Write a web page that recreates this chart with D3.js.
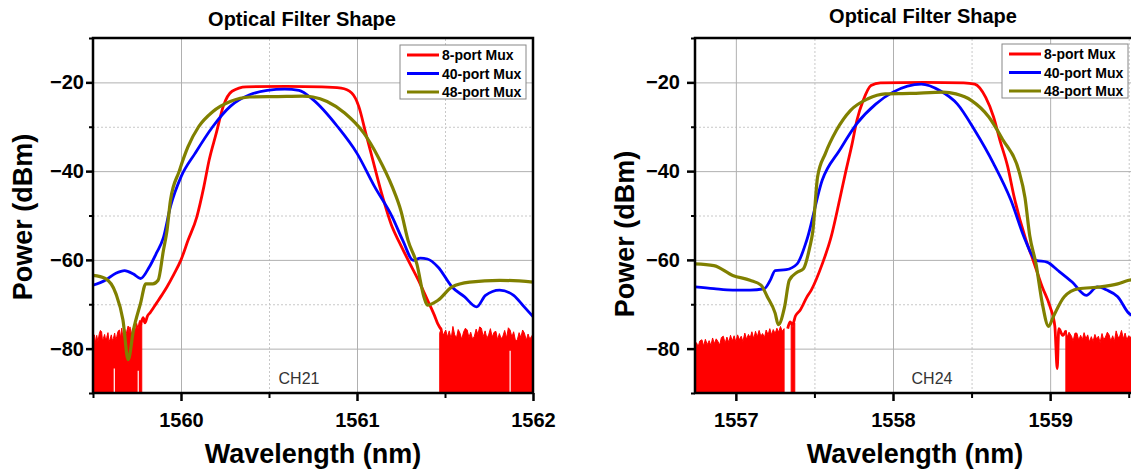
<!DOCTYPE html>
<html>
<head>
<meta charset="utf-8">
<script src="https://cdn.jsdelivr.net/npm/d3@7"></script>
<style>
  body { margin: 0; background: #fff; }
  svg { display: block; font-family: "Liberation Sans", Arial, sans-serif; }
</style>
</head>
<body>
<script>
// ---- data: [wavelength nm, power dBm] ----
var seriesNames = ["8-port Mux", "40-port Mux", "48-port Mux"];
var chartTitle = "Optical Filter Shape";
var xTitle = "Wavelength (nm)";
var yTitle = "Power (dBm)";
var channelLabels = ["CH21", "CH24"];

var yTicks = [-80, -60, -40, -20];
var yMinorTicks = [-90, -70, -50, -30, -10];
var yMinorGrid = [-70, -50, -30];
var ch21XTicks = [1560, 1561, 1562];
var ch21XMinor = [1559.5, 1560.5, 1561.5];
var ch24XTicks = [1557, 1558, 1559];
var ch24XMinor = [1557.5, 1558.5, 1559.5];

// CH21
var ch21Red = [
  [1559.770, -74.8], [1559.785, -73.0], [1559.795, -74.2], [1559.810, -72.6],
  [1559.825, -71.9], [1559.840, -71.0], [1559.860, -69.8], [1559.890, -68.0],
  [1559.920, -66.1], [1559.960, -63.2], [1560.000, -60.0], [1560.040, -55.6],
  [1560.090, -50.3], [1560.130, -43.5], [1560.160, -37.5], [1560.200, -31.5],
  [1560.240, -25.4], [1560.290, -22.0], [1560.370, -21.0], [1560.600, -20.9],
  [1560.800, -21.0], [1560.910, -21.3], [1560.970, -22.4], [1561.010, -25.4],
  [1561.050, -31.5], [1561.090, -37.5], [1561.140, -45.0], [1561.200, -52.6],
  [1561.240, -56.0], [1561.300, -60.8], [1561.360, -65.5], [1561.400, -69.0],
  [1561.440, -72.5], [1561.460, -74.5], [1561.480, -75.8]
];
var ch21RedFloorL = [
  [1559.500, -78.2], [1559.508, -76.9], [1559.514, -78.6], [1559.521, -77.0],
  [1559.528, -78.4], [1559.536, -76.6], [1559.542, -75.9], [1559.549, -76.2],
  [1559.554, -78.3], [1559.559, -77.7], [1559.566, -76.8], [1559.572, -78.1],
  [1559.578, -77.5], [1559.585, -76.4], [1559.591, -78.4], [1559.597, -77.9],
  [1559.604, -76.9], [1559.610, -78.2], [1559.616, -77.7], [1559.623, -76.5],
  [1559.629, -78.0], [1559.635, -77.3], [1559.642, -76.1], [1559.650, -75.8],
  [1559.656, -77.6], [1559.663, -75.4], [1559.668, -76.9], [1559.672, -77.3],
  [1559.680, -75.6], [1559.686, -77.0], [1559.691, -76.2], [1559.700, -74.9],
  [1559.705, -76.4], [1559.710, -75.1], [1559.718, -77.0], [1559.724, -75.5],
  [1559.729, -76.6], [1559.736, -74.7], [1559.742, -76.0], [1559.748, -74.3],
  [1559.756, -75.5], [1559.762, -74.0], [1559.767, -73.6], [1559.777, -74.5]
];
var ch21RedFloorR = [
  [1561.470, -76.5], [1561.480, -75.3], [1561.490, -77.0], [1561.504, -75.8],
  [1561.514, -77.4], [1561.524, -76.0], [1561.535, -77.8], [1561.545, -75.0],
  [1561.555, -76.9], [1561.565, -77.6], [1561.575, -75.7], [1561.585, -76.5],
  [1561.595, -77.9], [1561.606, -76.2], [1561.616, -75.4], [1561.626, -75.8],
  [1561.636, -77.5], [1561.646, -76.3], [1561.657, -77.9], [1561.667, -77.2],
  [1561.677, -75.6], [1561.687, -76.8], [1561.697, -75.1], [1561.707, -75.4],
  [1561.717, -77.3], [1561.728, -76.0], [1561.738, -77.7], [1561.748, -76.9],
  [1561.758, -75.5], [1561.768, -77.4], [1561.779, -76.3], [1561.789, -76.1],
  [1561.799, -78.0], [1561.809, -76.6], [1561.819, -77.8], [1561.829, -77.2],
  [1561.839, -75.9], [1561.850, -77.6], [1561.860, -75.3], [1561.870, -75.8],
  [1561.880, -77.4], [1561.890, -76.2], [1561.901, -78.3], [1561.911, -78.0],
  [1561.921, -76.4], [1561.931, -77.5], [1561.941, -75.8], [1561.951, -76.5],
  [1561.962, -78.1], [1561.972, -76.7], [1561.982, -77.9], [1561.992, -77.2],
  [1562.000, -76.8]
];
// trace dropouts inside the noise floor: [wavelength, top of the gap]
var ch21FloorGaps = [[1559.621, -84.5], [1559.757, -85.0], [1561.870, -80.5]];
var ch21Blue = [
  [1559.50, -65.7], [1559.57, -64.6], [1559.63, -63.0], [1559.68, -62.4],
  [1559.73, -63.2], [1559.77, -64.2], [1559.82, -61.6], [1559.86, -58.5],
  [1559.90, -55.0], [1559.94, -48.0], [1560.00, -41.3], [1560.08, -36.0],
  [1560.18, -30.0], [1560.28, -25.4], [1560.39, -22.8], [1560.49, -21.8],
  [1560.59, -21.5], [1560.67, -21.8], [1560.75, -23.9], [1560.89, -30.0],
  [1561.00, -36.0], [1561.10, -43.5], [1561.20, -50.3], [1561.26, -55.6],
  [1561.32, -60.1], [1561.36, -59.6], [1561.40, -59.8], [1561.46, -61.6],
  [1561.54, -66.1], [1561.61, -68.3], [1561.68, -70.6], [1561.73, -68.0],
  [1561.81, -66.8], [1561.89, -68.0], [1561.95, -70.6], [1562.00, -72.8]
];
var ch21Olive = [
  [1559.50, -63.5], [1559.57, -64.2], [1559.63, -67.6], [1559.67, -73.5],
  [1559.70, -82.5], [1559.73, -75.8], [1559.77, -69.8], [1559.80, -65.4],
  [1559.84, -65.4], [1559.87, -64.6], [1559.90, -57.9], [1559.92, -53.5],
  [1559.94, -46.6], [1559.99, -40.0], [1560.04, -34.5], [1560.10, -30.0],
  [1560.18, -26.6], [1560.28, -24.3], [1560.39, -23.3], [1560.55, -23.2],
  [1560.69, -23.1], [1560.75, -23.3], [1560.83, -24.3], [1560.93, -26.9],
  [1561.04, -31.5], [1561.12, -36.8], [1561.20, -43.5], [1561.25, -49.0],
  [1561.29, -55.6], [1561.34, -60.9], [1561.38, -68.3], [1561.40, -70.2],
  [1561.46, -69.1], [1561.54, -66.1], [1561.64, -65.0], [1561.81, -64.6],
  [1562.00, -65.0]
];

// CH24
var ch24Red = [
  [1557.330, -75.5], [1557.345, -74.0], [1557.360, -74.6], [1557.380, -72.6],
  [1557.410, -71.3], [1557.450, -68.5], [1557.480, -66.8], [1557.550, -60.9],
  [1557.605, -55.0], [1557.660, -46.5], [1557.700, -40.0], [1557.740, -33.8],
  [1557.770, -28.6], [1557.810, -24.1], [1557.860, -20.7], [1557.920, -20.1],
  [1558.200, -20.0], [1558.450, -20.1], [1558.520, -20.4], [1558.590, -23.4],
  [1558.640, -27.8], [1558.680, -33.0], [1558.730, -39.0], [1558.770, -45.7],
  [1558.845, -55.4], [1558.890, -59.9], [1558.950, -66.1], [1559.000, -70.6],
  [1559.030, -75.0], [1559.045, -84.5], [1559.055, -75.5], [1559.080, -77.0],
  [1559.100, -76.0]
];
var ch24RedFloorL = [
  [1556.740, -78.7], [1556.750, -78.7], [1556.760, -79.6], [1556.770, -78.3],
  [1556.784, -78.0], [1556.795, -79.4], [1556.806, -77.9], [1556.818, -79.1],
  [1556.830, -78.2], [1556.841, -79.3], [1556.852, -77.6], [1556.863, -78.9],
  [1556.875, -77.8], [1556.886, -78.4], [1556.897, -79.2], [1556.908, -77.5],
  [1556.920, -77.2], [1556.932, -78.8], [1556.943, -77.4], [1556.955, -78.6],
  [1556.966, -77.0], [1556.977, -78.3], [1556.989, -77.1], [1557.000, -78.5],
  [1557.011, -76.9], [1557.023, -78.0], [1557.034, -77.2], [1557.045, -78.4],
  [1557.057, -76.5], [1557.068, -77.9], [1557.080, -76.8], [1557.091, -77.6],
  [1557.102, -76.2], [1557.114, -77.8], [1557.125, -76.1], [1557.136, -77.4],
  [1557.148, -75.9], [1557.159, -77.2], [1557.170, -76.6], [1557.182, -77.5],
  [1557.193, -75.8], [1557.205, -76.9], [1557.216, -75.5], [1557.227, -76.9],
  [1557.238, -75.7], [1557.250, -76.6], [1557.261, -75.4], [1557.272, -76.3],
  [1557.284, -75.0], [1557.295, -76.1], [1557.307, -75.5]
];
var ch24RedSliver = [[1557.352, -74.5], [1557.362, -75.2], [1557.375, -74.2]];
var ch24RedFloorR = [
  [1559.100, -75.8], [1559.110, -77.4], [1559.120, -76.3], [1559.136, -77.2],
  [1559.146, -78.3], [1559.158, -76.5], [1559.170, -76.5], [1559.182, -78.1],
  [1559.194, -77.0], [1559.205, -78.0], [1559.216, -76.4], [1559.228, -77.8],
  [1559.239, -76.9], [1559.250, -78.5], [1559.262, -77.3], [1559.273, -78.4],
  [1559.285, -76.8], [1559.296, -77.9], [1559.307, -77.2], [1559.318, -78.6],
  [1559.330, -76.6], [1559.341, -78.0], [1559.352, -77.4], [1559.364, -76.3],
  [1559.375, -76.9], [1559.386, -78.3], [1559.398, -77.1], [1559.409, -78.4],
  [1559.420, -76.0], [1559.432, -77.5], [1559.443, -77.2], [1559.454, -75.9],
  [1559.466, -77.8], [1559.477, -76.5], [1559.488, -78.0], [1559.500, -77.1],
  [1559.511, -77.6], [1559.525, -76.4], [1559.540, -77.9], [1559.555, -76.8]
];
var ch24FloorGaps = [[1557.318, -83.0]];
var ch24Blue = [
  [1556.74, -66.1], [1556.86, -66.5], [1556.98, -66.8], [1557.09, -66.8],
  [1557.18, -66.5], [1557.22, -64.5], [1557.25, -62.4], [1557.32, -62.2],
  [1557.39, -60.9], [1557.45, -55.7], [1557.55, -42.0], [1557.66, -35.3],
  [1557.77, -29.3], [1557.89, -24.9], [1558.00, -22.2], [1558.18, -20.4],
  [1558.30, -21.9], [1558.41, -24.9], [1558.52, -30.8], [1558.64, -38.3],
  [1558.75, -46.5], [1558.84, -55.4], [1558.91, -60.1], [1558.98, -60.5],
  [1559.05, -62.4], [1559.14, -65.0], [1559.23, -68.0], [1559.30, -66.1],
  [1559.36, -66.8], [1559.43, -68.3], [1559.50, -72.0], [1559.56, -73.0]
];
var ch24Olive = [
  [1556.74, -60.9], [1556.86, -61.3], [1556.98, -63.5], [1557.09, -64.6],
  [1557.16, -65.7], [1557.20, -68.3], [1557.25, -72.0], [1557.27, -74.6],
  [1557.31, -70.6], [1557.34, -64.6], [1557.39, -62.8], [1557.43, -62.0],
  [1557.47, -57.2], [1557.49, -53.5], [1557.52, -41.3], [1557.57, -36.0],
  [1557.64, -30.8], [1557.73, -26.3], [1557.84, -23.7], [1557.95, -22.6],
  [1558.11, -22.5], [1558.32, -22.2], [1558.40, -22.6], [1558.50, -24.1],
  [1558.61, -27.8], [1558.70, -33.0], [1558.80, -39.8], [1558.84, -46.0],
  [1558.87, -54.5], [1558.91, -60.9], [1558.95, -69.8], [1558.99, -75.0],
  [1559.02, -72.8], [1559.09, -68.3], [1559.18, -66.5], [1559.32, -66.1],
  [1559.43, -65.4], [1559.50, -64.6], [1559.56, -64.3]
];

// ---- drawing ----
var W = 1131, H = 473;
var colors = ["#ff0000", "#0000ff", "#808000"];
var widths = [2.8, 2.8, 3.2];
var yDomain = [-90, -10];

var svg = d3.select("body").append("svg").attr("width", W).attr("height", H);
svg.append("rect").attr("width", W).attr("height", H).attr("fill", "#fff");

var panels = [
  { id: "p21", left: 93, right: 533, top: 38, bottom: 393,
    xDomain: [1559.5, 1562], xTicks: ch21XTicks, xMinor: ch21XMinor,
    tickLen: 7, yPad: 2,
    red: ch21Red, floors: [ch21RedFloorL, ch21RedFloorR], gaps: ch21FloorGaps,
    blue: ch21Blue, olive: ch21Olive,
    label: channelLabels[0], labelX: 299,
    titleX: 302, titleY: 26, xTitleX: 313, yTitleX: 32, yTitleY: 217,
    legX: 400, legY: 45 },
  { id: "p24", left: 695, right: 1168, top: 38, bottom: 393,
    xDomain: [1556.74, 1559.75], xTicks: ch24XTicks, xMinor: ch24XMinor,
    tickLen: 8, yPad: 7,
    red: ch24Red, floors: [ch24RedFloorL, ch24RedSliver, ch24RedFloorR], gaps: ch24FloorGaps,
    blue: ch24Blue, olive: ch24Olive,
    label: channelLabels[1], labelX: 932,
    titleX: 923, titleY: 23, xTitleX: 915, yTitleX: 634, yTitleY: 234,
    legX: 1002, legY: 44 }
];

panels.forEach(drawPanel);

function styleAxis(s) {
  s.attr("font-family", null).attr("font-size", null);
  s.select(".domain").remove();
}

function drawPanel(p) {
  var x = d3.scaleLinear().domain(p.xDomain).range([p.left, p.right]);
  var y = d3.scaleLinear().domain(yDomain).range([p.bottom, p.top]);
  var pw = p.right - p.left, ph = p.bottom - p.top;

  svg.append("clipPath").attr("id", "clip" + p.id)
    .append("rect").attr("x", p.left).attr("y", p.top).attr("width", pw).attr("height", ph);

  // minor grid
  svg.append("g").attr("transform", "translate(0," + p.bottom + ")")
    .call(d3.axisBottom(x).tickValues(p.xMinor).tickSize(-ph).tickFormat(""))
    .call(styleAxis)
    .selectAll("line").attr("stroke", "#c8c8c8").attr("stroke-dasharray", "2,2");
  svg.append("g").attr("transform", "translate(" + p.left + ",0)")
    .call(d3.axisLeft(y).tickValues(yMinorGrid).tickSize(-pw).tickFormat(""))
    .call(styleAxis)
    .selectAll("line").attr("stroke", "#c8c8c8").attr("stroke-dasharray", "2,2");
  // major grid
  svg.append("g").attr("transform", "translate(0," + p.bottom + ")")
    .call(d3.axisBottom(x).tickValues(p.xTicks).tickSize(-ph).tickFormat(""))
    .call(styleAxis)
    .selectAll("line").attr("stroke", "#b0b0b0");
  svg.append("g").attr("transform", "translate(" + p.left + ",0)")
    .call(d3.axisLeft(y).tickValues(yTicks).tickSize(-pw).tickFormat(""))
    .call(styleAxis)
    .selectAll("line").attr("stroke", "#b0b0b0");

  var plot = svg.append("g").attr("clip-path", "url(#clip" + p.id + ")");

  // noise floor of the 8-port trace
  var area = d3.area().x(d => x(d[0])).y0(p.bottom + 2).y1(d => y(d[1]));
  p.floors.forEach(function (f) {
    plot.append("path").datum(f)
      .attr("fill", colors[0]).attr("stroke", colors[0]).attr("stroke-width", 1)
      .attr("d", area);
  });
  plot.selectAll(".gap").data(p.gaps).enter().append("line")
    .attr("x1", d => x(d[0])).attr("x2", d => x(d[0]))
    .attr("y1", d => y(d[1])).attr("y2", p.bottom)
    .attr("stroke", "#fff").attr("stroke-width", 1.2);

  var line = d3.line().x(d => x(d[0])).y(d => y(d[1])).curve(d3.curveMonotoneX);
  [p.red, p.blue, p.olive].forEach(function (s, i) {
    plot.append("path").datum(s)
      .attr("fill", "none").attr("stroke", colors[i]).attr("stroke-width", widths[i])
      .attr("stroke-linejoin", "round")
      .attr("d", line);
  });

  // channel label
  svg.append("text").attr("x", p.labelX).attr("y", 384)
    .attr("text-anchor", "middle").attr("font-size", 16).attr("fill", "#333")
    .text(p.label);

  // frame
  svg.append("rect").attr("x", p.left).attr("y", p.top).attr("width", pw).attr("height", ph)
    .attr("fill", "none").attr("stroke", "#000").attr("stroke-width", 2.5);

  // axes ticks + labels
  var yAx = svg.append("g").attr("transform", "translate(" + p.left + ",0)")
    .call(d3.axisLeft(y).tickValues(yTicks).tickSize(p.tickLen).tickPadding(p.yPad).tickFormat(d3.format("d")))
    .call(styleAxis);
  yAx.selectAll("line").attr("stroke-width", 2.5);
  yAx.selectAll("text").attr("font-size", 20).attr("font-weight", "bold").attr("fill", "#000");
  svg.append("g").attr("transform", "translate(" + p.left + ",0)")
    .call(d3.axisLeft(y).tickValues(yMinorTicks).tickSize(4).tickFormat(""))
    .call(styleAxis)
    .selectAll("line").attr("stroke-width", 2);

  var xAx = svg.append("g").attr("transform", "translate(0," + p.bottom + ")")
    .call(d3.axisBottom(x).tickValues(p.xTicks).tickSize(8).tickPadding(12).tickFormat(d => String(d)))
    .call(styleAxis);
  xAx.selectAll("line").attr("stroke-width", 2.5);
  xAx.selectAll("text").attr("font-size", 20).attr("font-weight", "bold").attr("fill", "#000");
  svg.append("g").attr("transform", "translate(0," + p.bottom + ")")
    .call(d3.axisBottom(x).tickValues(p.xMinor).tickSize(5).tickFormat(""))
    .call(styleAxis)
    .selectAll("line").attr("stroke-width", 2);

  // titles
  svg.append("text").attr("x", p.titleX).attr("y", p.titleY)
    .attr("text-anchor", "middle").attr("font-size", 20).attr("font-weight", "bold")
    .text(chartTitle);
  svg.append("text").attr("x", p.xTitleX).attr("y", 463)
    .attr("text-anchor", "middle").attr("font-size", 27).attr("font-weight", "bold")
    .text(xTitle);
  svg.append("text")
    .attr("transform", "translate(" + p.yTitleX + "," + p.yTitleY + ") rotate(-90)")
    .attr("text-anchor", "middle").attr("font-size", 27).attr("font-weight", "bold")
    .text(yTitle);

  // legend
  var leg = svg.append("g").attr("transform", "translate(" + p.legX + "," + p.legY + ")");
  leg.append("rect").attr("width", 126).attr("height", 54)
    .attr("fill", "#fff").attr("stroke", "#888").attr("stroke-width", 1);
  seriesNames.forEach(function (name, i) {
    var ry = 10 + i * 18.5;
    leg.append("line").attr("x1", 7).attr("x2", 39).attr("y1", ry).attr("y2", ry)
      .attr("stroke", colors[i]).attr("stroke-width", 3);
    leg.append("text").attr("x", 42).attr("y", ry + 5)
      .attr("font-size", 14).attr("font-weight", "bold").text(name);
  });
}
</script>
</body>
</html>
